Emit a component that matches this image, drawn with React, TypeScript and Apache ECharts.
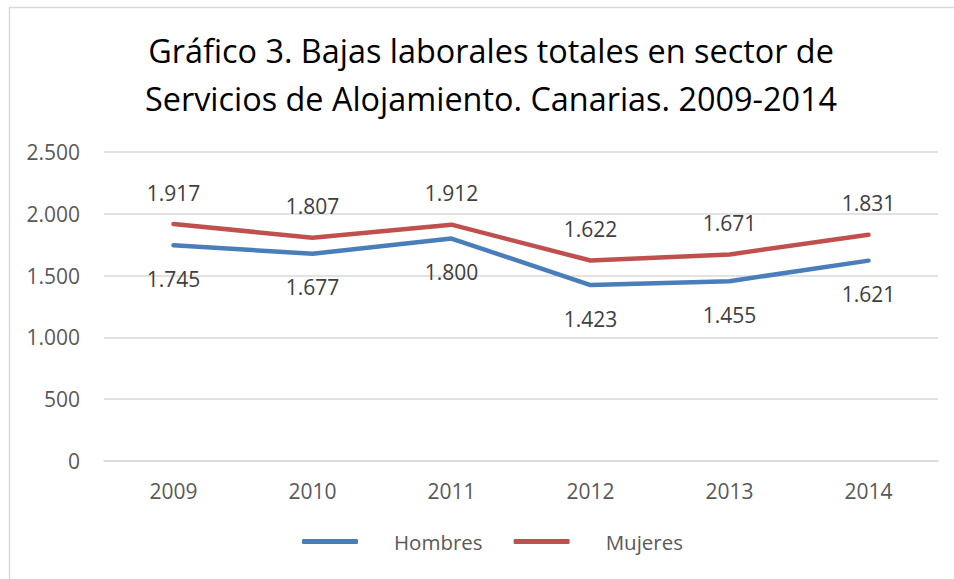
import React, { useEffect, useRef } from "react";
import * as echarts from "echarts";

const categories = ["2009", "2010", "2011", "2012", "2013", "2014"];
const hombres = [1745, 1677, 1800, 1423, 1455, 1621];
const mujeres = [1917, 1807, 1912, 1622, 1671, 1831];
const titleLines = [
  "Gráfico 3. Bajas laborales totales en sector de",
  "Servicios de Alojamiento. Canarias. 2009-2014",
];

const fmt = (v: number) => String(v).replace(/\B(?=(\d{3})+(?!\d))/g, ".");
const FONT = "'Open Sans', 'Noto Sans', sans-serif";
const GRAY = "#595959";

export default function App() {
  const ref = useRef<HTMLDivElement>(null);
  useEffect(() => {
    if (!ref.current) return;
    const chart = echarts.init(ref.current, null, { renderer: "svg" });
    chart.setOption({
      animation: false,
      backgroundColor: "#ffffff",
      textStyle: { fontFamily: FONT },
      title: {
        text: titleLines.join("\n"),
        left: 486,
        top: 21,
        textAlign: "center",
        textStyle: {
          fontFamily: FONT,
          fontSize: 32.4,
          fontWeight: "normal",
          color: "#000000",
          lineHeight: 48,
        },
      },
      graphic: [
        {
          type: "rect",
          shape: { x: 9.5, y: 7.5, width: 1000, height: 1000 },
          style: { fill: "none", stroke: "#d9d9d9", lineWidth: 1.5 },
          silent: true,
          z: -1,
        },
      ],
      legend: {
        bottom: 22,
        left: 297,
        itemWidth: 56,
        itemHeight: 5,
        itemGap: 31,
        icon: "roundRect",
        data: ["Hombres", "Mujeres"],
        textStyle: {
          fontFamily: FONT,
          fontSize: 20.5,
          color: GRAY,
          padding: [0, 0, 0, 31],
        },
      },
      grid: { left: 104, right: 16, top: 152, bottom: 118 },
      xAxis: {
        type: "category",
        data: categories,
        boundaryGap: true,
        axisLine: { lineStyle: { color: "#d9d9d9", width: 1.5 } },
        axisTick: { show: false },
        axisLabel: { color: GRAY, fontSize: 21, fontFamily: FONT, margin: 19 },
      },
      yAxis: {
        type: "value",
        min: 0,
        max: 2500,
        interval: 500,
        axisLine: { show: false },
        axisTick: { show: false },
        splitLine: { lineStyle: { color: "#d9d9d9", width: 1.5 } },
        axisLabel: {
          color: GRAY,
          fontSize: 21,
          fontFamily: FONT,
          margin: 24,
          formatter: (v: number) => fmt(v),
        },
      },
      series: [
        {
          name: "Hombres",
          type: "line",
          data: hombres,
          color: "#4a7ebb",
          symbol: "circle",
          symbolSize: 0,
          showSymbol: true,
          lineStyle: { width: 4.5, color: "#4a7ebb", cap: "round", join: "round" },
          label: {
            show: true,
            position: "bottom",
            distance: 23,
            color: "#404040",
            fontSize: 21,
            fontFamily: FONT,
            formatter: (p: any) => fmt(p.value),
          },
        },
        {
          name: "Mujeres",
          type: "line",
          data: mujeres,
          color: "#c0504d",
          symbol: "circle",
          symbolSize: 0,
          showSymbol: true,
          lineStyle: { width: 4.5, color: "#c0504d", cap: "round", join: "round" },
          label: {
            show: true,
            position: "top",
            distance: 21,
            color: "#404040",
            fontSize: 21,
            fontFamily: FONT,
            formatter: (p: any) => fmt(p.value),
          },
        },
      ],
    });
    return () => chart.dispose();
  }, []);
  return (
    <div
      ref={ref}
      style={{ position: "fixed", left: 0, top: 0, width: 954, height: 579 }}
    />
  );
}
